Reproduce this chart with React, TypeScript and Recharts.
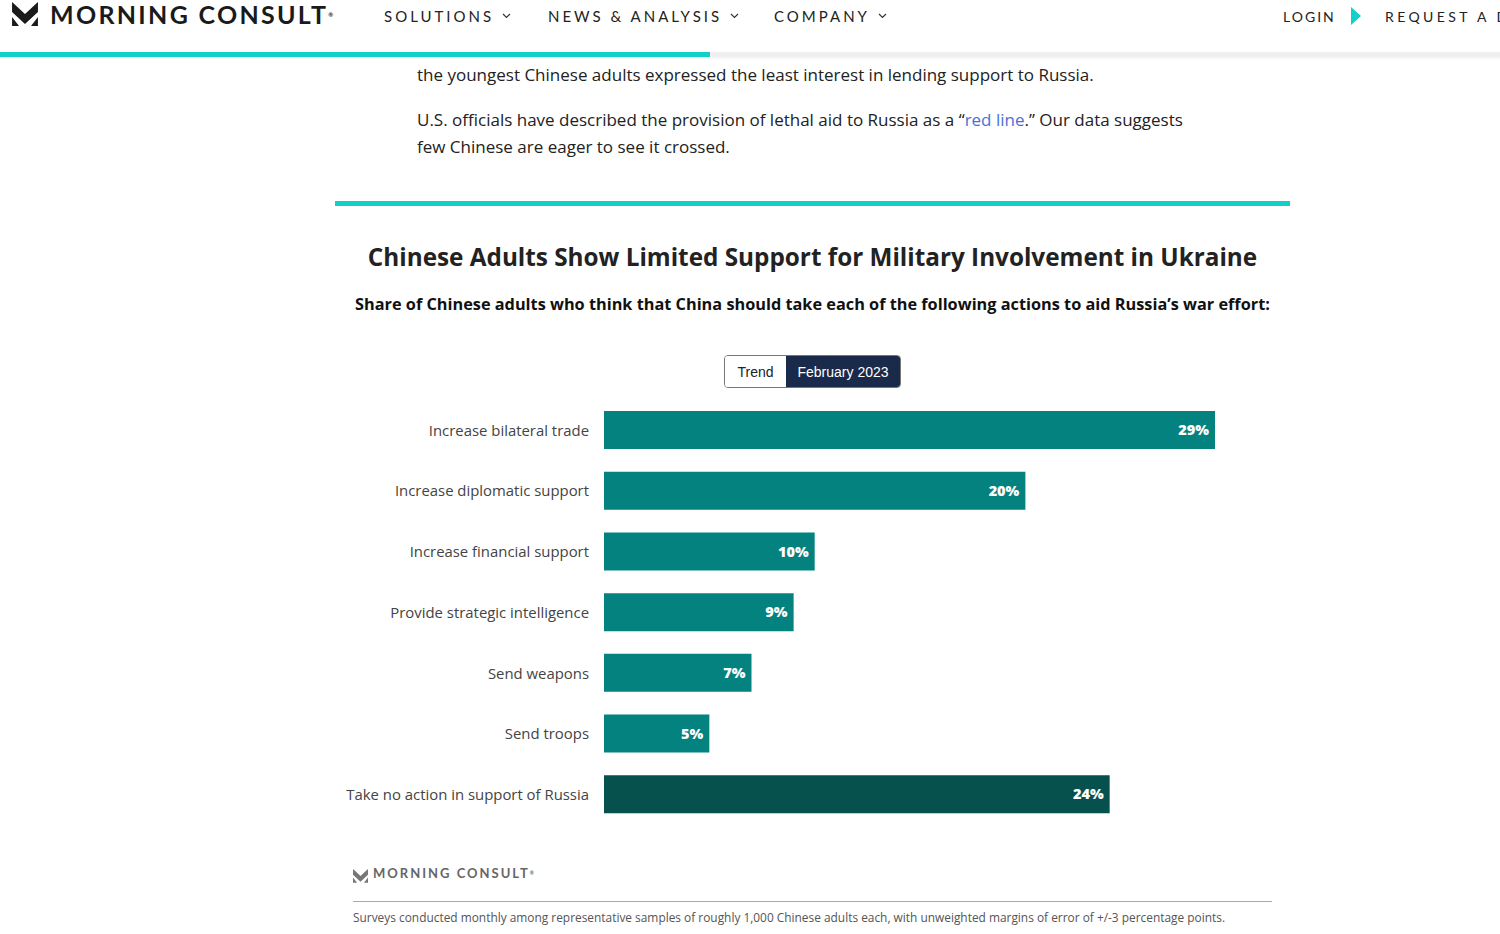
import React from "react";
import { Bar, BarChart, Cell, LabelList, XAxis, YAxis } from "recharts";

const actions = [
  "Increase bilateral trade",
  "Increase diplomatic support",
  "Increase financial support",
  "Provide strategic intelligence",
  "Send weapons",
  "Send troops",
  "Take no action in support of Russia",
];
const shares = [29, 20, 10, 9, 7, 5, 24];
const noAction = [false, false, false, false, false, false, true];

const rows = actions.map((action, i) => ({ action, share: shares[i], noAction: noAction[i] }));

const FONT = "'Open Sans', 'Noto Sans', sans-serif";
const NAV_FONT = "Lato, sans-serif";
const TEAL = "#03827f";
const DARK = "#06514e";

function Logo({ size, color }: { size: number; color: string }) {
  return (
    <svg width={size} height={size * 0.92} viewBox="0 0 26 24">
      <path d="M0 0 L13 12 L26 0 L26 10 L13 22 L0 10 Z" fill={color} />
      <path d="M0 15 L7 24 L0 24 Z" fill={color} />
      <path d="M26 15 L19 24 L26 24 Z" fill={color} />
    </svg>
  );
}

function Chevron() {
  return (
    <svg width={9} height={6} style={{ marginLeft: 8, verticalAlign: "middle", position: "relative", top: -2 }}>
      <path d="M1 1 L4.5 4.5 L8 1" stroke="#333" strokeWidth={1.2} fill="none" />
    </svg>
  );
}

const abs = (left: number, top: number, extra: React.CSSProperties = {}): React.CSSProperties => ({
  position: "absolute",
  left,
  top,
  whiteSpace: "nowrap",
  ...extra,
});

const navStyle: React.CSSProperties = { fontFamily: NAV_FONT, fontSize: 15, letterSpacing: 3, color: "#222", lineHeight: "15px" };

export default function App() {
  return (
    <div style={{ position: "fixed", left: 0, top: 0, width: 1500, height: 934, overflow: "hidden", background: "#fff", fontFamily: FONT }}>
      {/* header */}
      <div style={abs(12, 2)}>
        <Logo size={26} color="#1a1a1a" />
      </div>
      <div style={abs(50, 2, { fontFamily: NAV_FONT, fontSize: 25, fontWeight: 700, letterSpacing: 2.3, color: "#1a1a1a", lineHeight: "25px" })}>
        MORNING CONSULT<sup style={{ fontSize: 6, verticalAlign: "top" }}>®</sup>
      </div>
      <div style={abs(384, 9, navStyle)}>SOLUTIONS<Chevron /></div>
      <div style={abs(548, 9, navStyle)}>NEWS &amp; ANALYSIS<Chevron /></div>
      <div style={abs(774, 9, navStyle)}>COMPANY<Chevron /></div>
      <div style={abs(1283, 9, { ...navStyle, fontSize: 14, letterSpacing: 2 })}>LOGIN</div>
      <svg style={abs(1351, 7)} width={10} height={18}>
        <path d="M0 0 L10 9 L0 18 Z" fill="#12d0c8" />
      </svg>
      <div style={abs(1385, 9, { ...navStyle, fontSize: 14, letterSpacing: 3.4 })}>REQUEST A DEMO</div>
      <div style={abs(0, 52, { width: 1500, height: 5, background: "#efefef" })} />
      <div style={abs(0, 52, { width: 710, height: 5, background: "#12d0c8" })} />
      <div style={abs(0, 57, { width: 1500, height: 3, background: "linear-gradient(#f2f2f2, #fff)" })} />

      {/* article */}
      <div style={abs(417, 64, { fontSize: 17, color: "#222", lineHeight: "22px" })}>
        the youngest Chinese adults expressed the least interest in lending support to Russia.
      </div>
      <div style={abs(417, 106, { fontSize: 17, color: "#222", lineHeight: "27px" })}>
        U.S. officials have described the provision of lethal aid to Russia as a “<span style={{ color: "#4a6fd6" }}>red line</span>.” Our data suggests
        <br />
        few Chinese are eager to see it crossed.
      </div>
      <div style={abs(335, 201, { width: 955, height: 5, background: "#12d0c8" })} />

      {/* titles */}
      <div style={abs(335, 242, { width: 955, textAlign: "center", fontSize: 24.3, fontWeight: 700, color: "#222", lineHeight: "30px" })}>
        Chinese Adults Show Limited Support for Military Involvement in Ukraine
      </div>
      <div style={abs(335, 294, { width: 955, textAlign: "center", fontSize: 16.3, fontWeight: 700, color: "#111", lineHeight: "20px" })}>
        Share of Chinese adults who think that China should take each of the following actions to aid Russia’s war effort:
      </div>

      {/* toggle */}
      <div style={abs(724, 355, { width: 175, height: 31, border: "1px solid #777", borderRadius: 4, overflow: "hidden", display: "flex", fontFamily: "'Liberation Sans', Arial, sans-serif", fontSize: 14 })}>
        <div style={{ width: 61, textAlign: "center", lineHeight: "32px", color: "#222", background: "#fff" }}>Trend</div>
        <div style={{ flex: 1, textAlign: "center", lineHeight: "32px", color: "#fff", background: "#1a2a4a" }}>February 2023</div>
      </div>

      {/* chart */}
      <div style={abs(335, 395)}>
        <BarChart
          width={955}
          height={435}
          data={rows}
          layout="vertical"
          margin={{ top: 5, right: 75, bottom: 5, left: 0 }}
          barSize={38}
          accessibilityLayer={false}
        >
          <XAxis type="number" domain={[0, 29]} hide />
          <YAxis
            type="category"
            dataKey="action"
            width={269}
            axisLine={false}
            tickLine={false}
            tickSize={0}
            tickMargin={15}
            tick={{ fill: "#444", fontSize: 14.9, fontFamily: FONT }}
          />
          <Bar dataKey="share" isAnimationActive={false}>
            {rows.map((row) => (
              <Cell key={row.action} fill={row.noAction ? DARK : TEAL} />
            ))}
            <LabelList
              dataKey="share"
              position="insideRight"
              offset={6}
              formatter={(v: any) => `${v}%`}
              style={{ fill: "#fff", fontSize: 14.5, fontWeight: 800, fontFamily: FONT }}
            />
          </Bar>
        </BarChart>
      </div>

      {/* footer */}
      <div style={abs(353, 866)}>
        <Logo size={15} color="#777" />
      </div>
      <div style={abs(373, 866, { fontFamily: NAV_FONT, fontSize: 13, fontWeight: 700, letterSpacing: 2, color: "#666", lineHeight: "14px" })}>
        MORNING CONSULT<sup style={{ fontSize: 5, verticalAlign: "top" }}>®</sup>
      </div>
      <div style={abs(353, 901, { width: 919, height: 1, background: "#aaa" })} />
      <div style={abs(353, 910, { fontSize: 11.9, color: "#555", lineHeight: "15px" })}>
        Surveys conducted monthly among representative samples of roughly 1,000 Chinese adults each, with unweighted margins of error of +/-3 percentage points.
      </div>
    </div>
  );
}
